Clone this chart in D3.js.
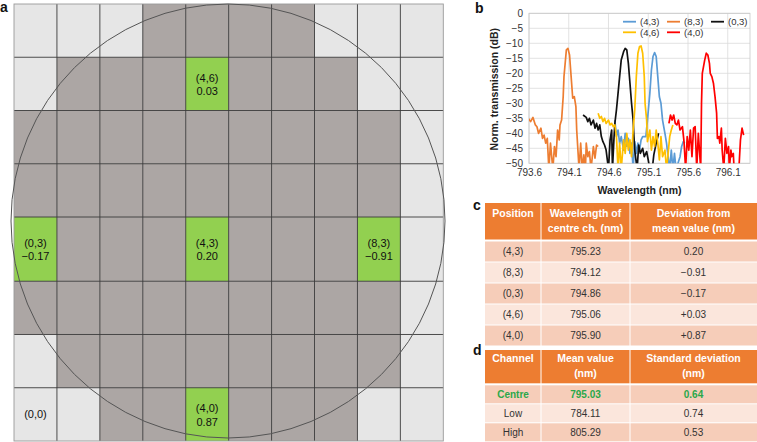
<!DOCTYPE html>
<html>
<head>
<meta charset="utf-8">
<script src="https://cdn.jsdelivr.net/npm/d3@7"></script>
<style>
body { margin: 0; background: #fff; }
svg { display: block; font-family: "Liberation Sans", Arial, sans-serif; }
</style>
</head>
<body>
<script>
// ---- panel a : wafer map (rows listed top = row 7 to bottom = row 0)
var waferCells = [
  "LLLDDDDLLL",
  "LDDDGDDDLL",
  "DDDDDDDDDL",
  "DDDDDDDDDL",
  "GDDDGDDDGL",
  "DDDDDDDDDL",
  "LDDDDDDDDL",
  "LLDDGDDDLL"
];
var cellLabels = [
  {col: 4, row: 6, value: "0.03"},
  {col: 0, row: 3, value: "\u22120.17"},
  {col: 4, row: 3, value: "0.20"},
  {col: 8, row: 3, value: "\u22120.91"},
  {col: 0, row: 0, value: ""},
  {col: 4, row: 0, value: "0.87"}
];

// ---- panel b : spectra [wavelength nm, dB]
var s43 = [[794.68,-35.6],[794.70,-41.1],[794.72,-38.9],[794.74,-43.3],[794.76,-41.1],[794.79,-45.6],[794.81,-40.0],[794.83,-44.4],[794.85,-41.7],[794.87,-46.7],[794.89,-43.3],[794.91,-52],[794.93,-42.8],[794.95,-46.7],[794.97,-43.3],[794.99,-45.6],[795.01,-42.2],[795.03,-41.1],[795.07,-41.1],[795.09,-35.6],[795.12,-26.7],[795.14,-18.9],[795.16,-14.4],[795.18,-13.1],[795.20,-14.4],[795.22,-21.1],[795.24,-27.8],[795.26,-30.0],[795.28,-35.6],[795.31,-40.0],[795.33,-43.3],[795.35,-47.8],[795.37,-52],[795.39,-45.6],[795.41,-52],[795.43,-46.7],[795.45,-52],[795.50,-47.8],[795.52,-44.4],[795.54,-42.8],[795.56,-43.3]];
var s83 = [[793.59,-35.0],[793.62,-36.1],[793.65,-34.7],[793.68,-37.2],[793.70,-37.8],[793.72,-40.0],[793.75,-38.3],[793.77,-41.7],[793.79,-40.6],[793.81,-43.3],[793.83,-41.7],[793.85,-52],[793.87,-43.3],[793.90,-52],[793.92,-44.4],[793.94,-47.8],[793.96,-38.9],[793.98,-42.2],[793.99,-37.2],[794.01,-35.6],[794.03,-27.8],[794.04,-21.1],[794.07,-12.2],[794.09,-11.7],[794.11,-13.9],[794.13,-21.1],[794.15,-28.3],[794.17,-27.8],[794.19,-31.1],[794.20,-38.9],[794.23,-52],[794.25,-43.3],[794.27,-52],[794.29,-47.2],[794.31,-52],[794.32,-43.3],[794.34,-47.8],[794.36,-46.1],[794.38,-52],[794.41,-44.4],[794.43,-48.3],[794.45,-43.9],[794.47,-44.4]];
var s03 = [[794.28,-33.9],[794.32,-34.7],[794.34,-36.1],[794.36,-35.0],[794.38,-37.2],[794.41,-35.6],[794.43,-38.3],[794.45,-36.7],[794.47,-38.9],[794.49,-37.2],[794.51,-41.1],[794.53,-42.8],[794.55,-43.9],[794.57,-45.6],[794.60,-52],[794.62,-42.2],[794.64,-38.9],[794.65,-52],[794.67,-41.1],[794.68,-36.7],[794.70,-32.2],[794.72,-26.7],[794.74,-21.1],[794.76,-15.6],[794.79,-12.8],[794.81,-11.7],[794.83,-12.2],[794.85,-16.7],[794.87,-23.3],[794.89,-30.0],[794.91,-35.6],[794.92,-41.1],[794.93,-45.6],[794.96,-52],[794.98,-43.9],[795.00,-46.7],[795.03,-45.0],[795.05,-47.8],[795.08,-46.1],[795.10,-48.9],[795.12,-52],[795.15,-52],[795.17,-47.2],[795.20,-43.3],[795.23,-40.0]];
var s46 = [[794.47,-33.3],[794.49,-35.0],[794.51,-34.4],[794.53,-36.1],[794.55,-35.0],[794.57,-36.7],[794.60,-35.6],[794.62,-37.2],[794.64,-36.7],[794.66,-37.8],[794.68,-37.2],[794.70,-41.1],[794.72,-52],[794.74,-43.3],[794.76,-52],[794.79,-42.2],[794.81,-46.7],[794.83,-40.0],[794.85,-45.6],[794.87,-42.2],[794.89,-47.8],[794.91,-38.9],[794.93,-32.2],[794.95,-21.1],[794.97,-13.3],[794.99,-11.1],[795.01,-10.9],[795.03,-13.3],[795.05,-21.1],[795.06,-30.0],[795.08,-35.6],[795.09,-42.8],[795.12,-38.9],[795.14,-45.6],[795.16,-41.1],[795.18,-44.4],[795.20,-38.9],[795.22,-43.3],[795.24,-48.9],[795.26,-41.1],[795.28,-47.8],[795.31,-45.6],[795.33,-52],[795.35,-46.7],[795.37,-41.1],[795.39,-38.9],[795.41,-37.2]];
var s40 = [[795.36,-36.7],[795.38,-33.9],[795.40,-35.6],[795.42,-33.9],[795.44,-36.7],[795.46,-37.2],[795.48,-35.6],[795.50,-38.9],[795.53,-37.8],[795.55,-42.8],[795.57,-52],[795.59,-41.1],[795.61,-45.6],[795.63,-38.9],[795.65,-47.8],[795.67,-38.3],[795.69,-37.8],[795.71,-52],[795.73,-40.0],[795.76,-52],[795.77,-30.0],[795.78,-20.0],[795.81,-15.6],[795.83,-13.3],[795.85,-13.9],[795.87,-16.7],[795.88,-20.0],[795.90,-21.1],[795.92,-23.3],[795.94,-27.8],[795.96,-33.3],[795.97,-41.7],[795.99,-41.1],[796.00,-43.3],[796.02,-38.3],[796.03,-45.6],[796.05,-52],[796.07,-41.7],[796.09,-46.7],[796.11,-44.4],[796.12,-52],[796.14,-45.6],[796.15,-47.8],[796.17,-46.7],[796.18,-52],[796.24,-52],[796.26,-42.2],[796.28,-38.3],[796.30,-40.6]];

var seriesNames = ["(4,3)", "(8,3)", "(0,3)", "(4,6)", "(4,0)"];
var seriesData = [s43, s83, s03, s46, s40];
var seriesColors = ["#5b9bd5", "#ed7d31", "#111111", "#ffc000", "#ff0000"];
var xTicks = [793.6, 794.1, 794.6, 795.1, 795.6, 796.1];
var yTicks = [0, -5, -10, -15, -20, -25, -30, -35, -40, -45, -50];

// ---- panels c and d : tables
var posHeader = [["Position"], ["Wavelength of", "centre ch. (nm)"], ["Deviation from", "mean value (nm)"]];
var posRows = [
  ["(4,3)", "795.23", "0.20"],
  ["(8,3)", "794.12", "\u22120.91"],
  ["(0,3)", "794.86", "\u22120.17"],
  ["(4,6)", "795.06", "+0.03"],
  ["(4,0)", "795.90", "+0.87"]
];
var chHeader = [["Channel"], ["Mean value", "(nm)"], ["Standard deviation", "(nm)"]];
var chRows = [
  ["Centre", "795.03", "0.64"],
  ["Low", "784.11", "0.74"],
  ["High", "805.29", "0.53"]
];

var svg = d3.select("body").append("svg")
    .attr("width", 757)
    .attr("height", 442);

// ================= panel a
var gx = d3.scaleLinear().domain([0, 10]).range([14, 443.3]);
// middle row (row 3) is drawn a little taller than the others
var gyLin = d3.scaleLinear().domain([0, 8.206]).range([441, 4]);
function rowEdge(k) { return gyLin(k <= 3 ? k : k + 0.206); }
var cellFill = {L: "#e6e6e6", D: "#aca6a4", G: "#92d050"};

var wafer = svg.append("g");
waferCells.forEach(function(line, i) {
  var r = 7 - i;
  line.split("").forEach(function(t, c) {
    wafer.append("rect")
      .attr("x", gx(c))
      .attr("y", rowEdge(r + 1))
      .attr("width", gx(c + 1) - gx(c))
      .attr("height", rowEdge(r) - rowEdge(r + 1))
      .attr("fill", cellFill[t]);
  });
});

// grid lines
for (var k = 1; k < 10; k++) {
  wafer.append("line")
    .attr("x1", gx(k)).attr("x2", gx(k))
    .attr("y1", rowEdge(8)).attr("y2", rowEdge(0))
    .attr("stroke", "#3a3a3a").attr("stroke-width", 0.9);
}
for (var k = 1; k < 8; k++) {
  wafer.append("line")
    .attr("x1", gx(0)).attr("x2", gx(10))
    .attr("y1", rowEdge(k)).attr("y2", rowEdge(k))
    .attr("stroke", "#3a3a3a").attr("stroke-width", 0.9);
}
wafer.append("rect")
  .attr("x", gx(0)).attr("y", rowEdge(8))
  .attr("width", gx(10) - gx(0)).attr("height", rowEdge(0) - rowEdge(8))
  .attr("fill", "none").attr("stroke", "#9a9a9a").attr("stroke-width", 0.9);

// wafer outline
wafer.append("circle")
  .attr("cx", 228).attr("cy", 221).attr("r", 217)
  .attr("fill", "none").attr("stroke", "#555").attr("stroke-width", 1);

cellLabels.forEach(function(d) {
  var cx = (gx(d.col) + gx(d.col + 1)) / 2;
  var cy = (rowEdge(d.row) + rowEdge(d.row + 1)) / 2;
  var t = wafer.append("text")
    .attr("text-anchor", "middle")
    .style("font-size", "11px")
    .attr("fill", "#111");
  if (d.value) {
    t.append("tspan").attr("x", cx).attr("y", cy - 2.2).text("(" + d.col + "," + d.row + ")");
    t.append("tspan").attr("x", cx).attr("y", cy + 11.2).text(d.value);
  } else {
    t.append("tspan").attr("x", cx).attr("y", cy + 4).text("(" + d.col + "," + d.row + ")");
  }
});

// ================= panel b
var x = d3.scaleLinear().domain([793.6, 796.38]).range([529, 750]);
var y = d3.scaleLinear().domain([-50, 0]).range([163.3, 13.3]);

var plot = svg.append("g");

plot.append("g")
  .selectAll("line").data(yTicks).enter().append("line")
  .attr("x1", x.range()[0]).attr("x2", x.range()[1])
  .attr("y1", function(d) { return y(d); }).attr("y2", function(d) { return y(d); })
  .attr("stroke", "#dadada").attr("stroke-width", 0.8);
plot.append("g")
  .selectAll("line").data(xTicks).enter().append("line")
  .attr("x1", function(d) { return x(d); }).attr("x2", function(d) { return x(d); })
  .attr("y1", y(0)).attr("y2", y(-50))
  .attr("stroke", "#dadada").attr("stroke-width", 0.8);
plot.append("rect")
  .attr("x", x.range()[0]).attr("y", y(0))
  .attr("width", x.range()[1] - x.range()[0]).attr("height", y(-50) - y(0))
  .attr("fill", "none").attr("stroke", "#c8c8c8").attr("stroke-width", 0.8);

svg.append("clipPath").attr("id", "plotclip")
  .append("rect")
  .attr("x", x.range()[0]).attr("y", y(0) - 2)
  .attr("width", x.range()[1] - x.range()[0]).attr("height", y(-50) - y(0) + 2);

var line = d3.line()
  .x(function(d) { return x(d[0]); })
  .y(function(d) { return y(d[1]); });

var traces = plot.append("g").attr("clip-path", "url(#plotclip)");
seriesData.forEach(function(s, i) {
  traces.append("path")
    .attr("d", line(s))
    .attr("fill", "none")
    .attr("stroke", seriesColors[i])
    .attr("stroke-width", 1.7)
    .attr("stroke-linejoin", "round");
});

var yAxis = plot.append("g")
  .attr("transform", "translate(" + x.range()[0] + ",0)")
  .call(d3.axisLeft(y).tickValues(yTicks).tickSize(0).tickPadding(6)
    .tickFormat(function(d) { return d === 0 ? "0" : "\u2212" + Math.abs(d); }));
var xAxis = plot.append("g")
  .attr("transform", "translate(0," + y(-50) + ")")
  .call(d3.axisBottom(x).tickValues(xTicks).tickSize(0).tickPadding(6)
    .tickFormat(d3.format(".1f")));
[xAxis, yAxis].forEach(function(a) {
  a.select(".domain").remove();
  a.selectAll("text")
    .style("font-family", "'Liberation Sans', Arial, sans-serif")
    .style("font-size", "10px")
    .attr("fill", "#333");
});

plot.append("text")
  .attr("x", (x.range()[0] + x.range()[1]) / 2).attr("y", 194)
  .attr("text-anchor", "middle")
  .style("font-size", "10.5px").style("font-weight", "bold")
  .attr("fill", "#222")
  .text("Wavelength (nm)");
plot.append("text")
  .attr("transform", "translate(498," + (y(-25) + 1) + ") rotate(-90)")
  .attr("text-anchor", "middle")
  .style("font-size", "10.5px").style("font-weight", "bold")
  .attr("fill", "#222")
  .text("Norm. transmission (dB)");

// legend
var legend = plot.append("g");
seriesNames.forEach(function(name, i) {
  var lx = 623 + (i % 3) * 44;
  var ly = 21.7 + Math.floor(i / 3) * 10.6;
  legend.append("line")
    .attr("x1", lx).attr("x2", lx + 13)
    .attr("y1", ly).attr("y2", ly)
    .attr("stroke", seriesColors[i]).attr("stroke-width", 1.8);
  legend.append("text")
    .attr("x", lx + 17).attr("y", ly + 3.3)
    .style("font-size", "9.5px")
    .attr("fill", "#333")
    .text(name);
});

// ================= panels c and d
var colEdges = [485, 541, 630, 757];

function drawTable(top, headH, lineY, rowH, header, rows, greenFirst) {
  var g = svg.append("g");
  g.append("rect")
    .attr("x", colEdges[0]).attr("y", top)
    .attr("width", colEdges[3] - colEdges[0]).attr("height", headH)
    .attr("fill", "#ed7d31");
  header.forEach(function(lines, c) {
    var cx = (colEdges[c] + colEdges[c + 1]) / 2;
    lines.forEach(function(t, j) {
      g.append("text")
        .attr("x", cx).attr("y", top + lineY[j])
        .attr("text-anchor", "middle")
        .style("font-size", "10.5px").style("font-weight", "bold")
        .attr("fill", "#fff")
        .text(t);
    });
  });
  var bodyTop = top + headH + 2;
  rows.forEach(function(r, i) {
    var ry = bodyTop + i * rowH;
    g.append("rect")
      .attr("x", colEdges[0]).attr("y", ry)
      .attr("width", colEdges[3] - colEdges[0]).attr("height", rowH - 1)
      .attr("fill", i % 2 === 0 ? "#f6cdb9" : "#fbe6dc");
    r.forEach(function(t, c) {
      var green = greenFirst && i === 0;
      g.append("text")
        .attr("x", (colEdges[c] + colEdges[c + 1]) / 2)
        .attr("y", ry + rowH / 2 + 3)
        .attr("text-anchor", "middle")
        .style("font-size", "10px")
        .style("font-weight", green ? "bold" : "normal")
        .attr("fill", green ? "#2aa84a" : "#333")
        .text(t);
    });
  });
  var bottom = bodyTop + rows.length * rowH;
  [1, 2].forEach(function(c) {
    g.append("line")
      .attr("x1", colEdges[c]).attr("x2", colEdges[c])
      .attr("y1", top).attr("y2", bottom)
      .attr("stroke", "#fff").attr("stroke-width", 1);
  });
}

drawTable(203, 36.5, [13.8, 28.8], 21, posHeader, posRows, false);
drawTable(350, 33.3, [11.8, 26.8], 19, chHeader, chRows, true);

// ================= panel letters
[["a", 0, 12], ["b", 475, 13], ["c", 473, 210], ["d", 473, 355]].forEach(function(p) {
  svg.append("text")
    .attr("x", p[1]).attr("y", p[2])
    .style("font-size", "14px").style("font-weight", "bold")
    .attr("fill", "#111")
    .text(p[0]);
});
</script>
</body>
</html>
